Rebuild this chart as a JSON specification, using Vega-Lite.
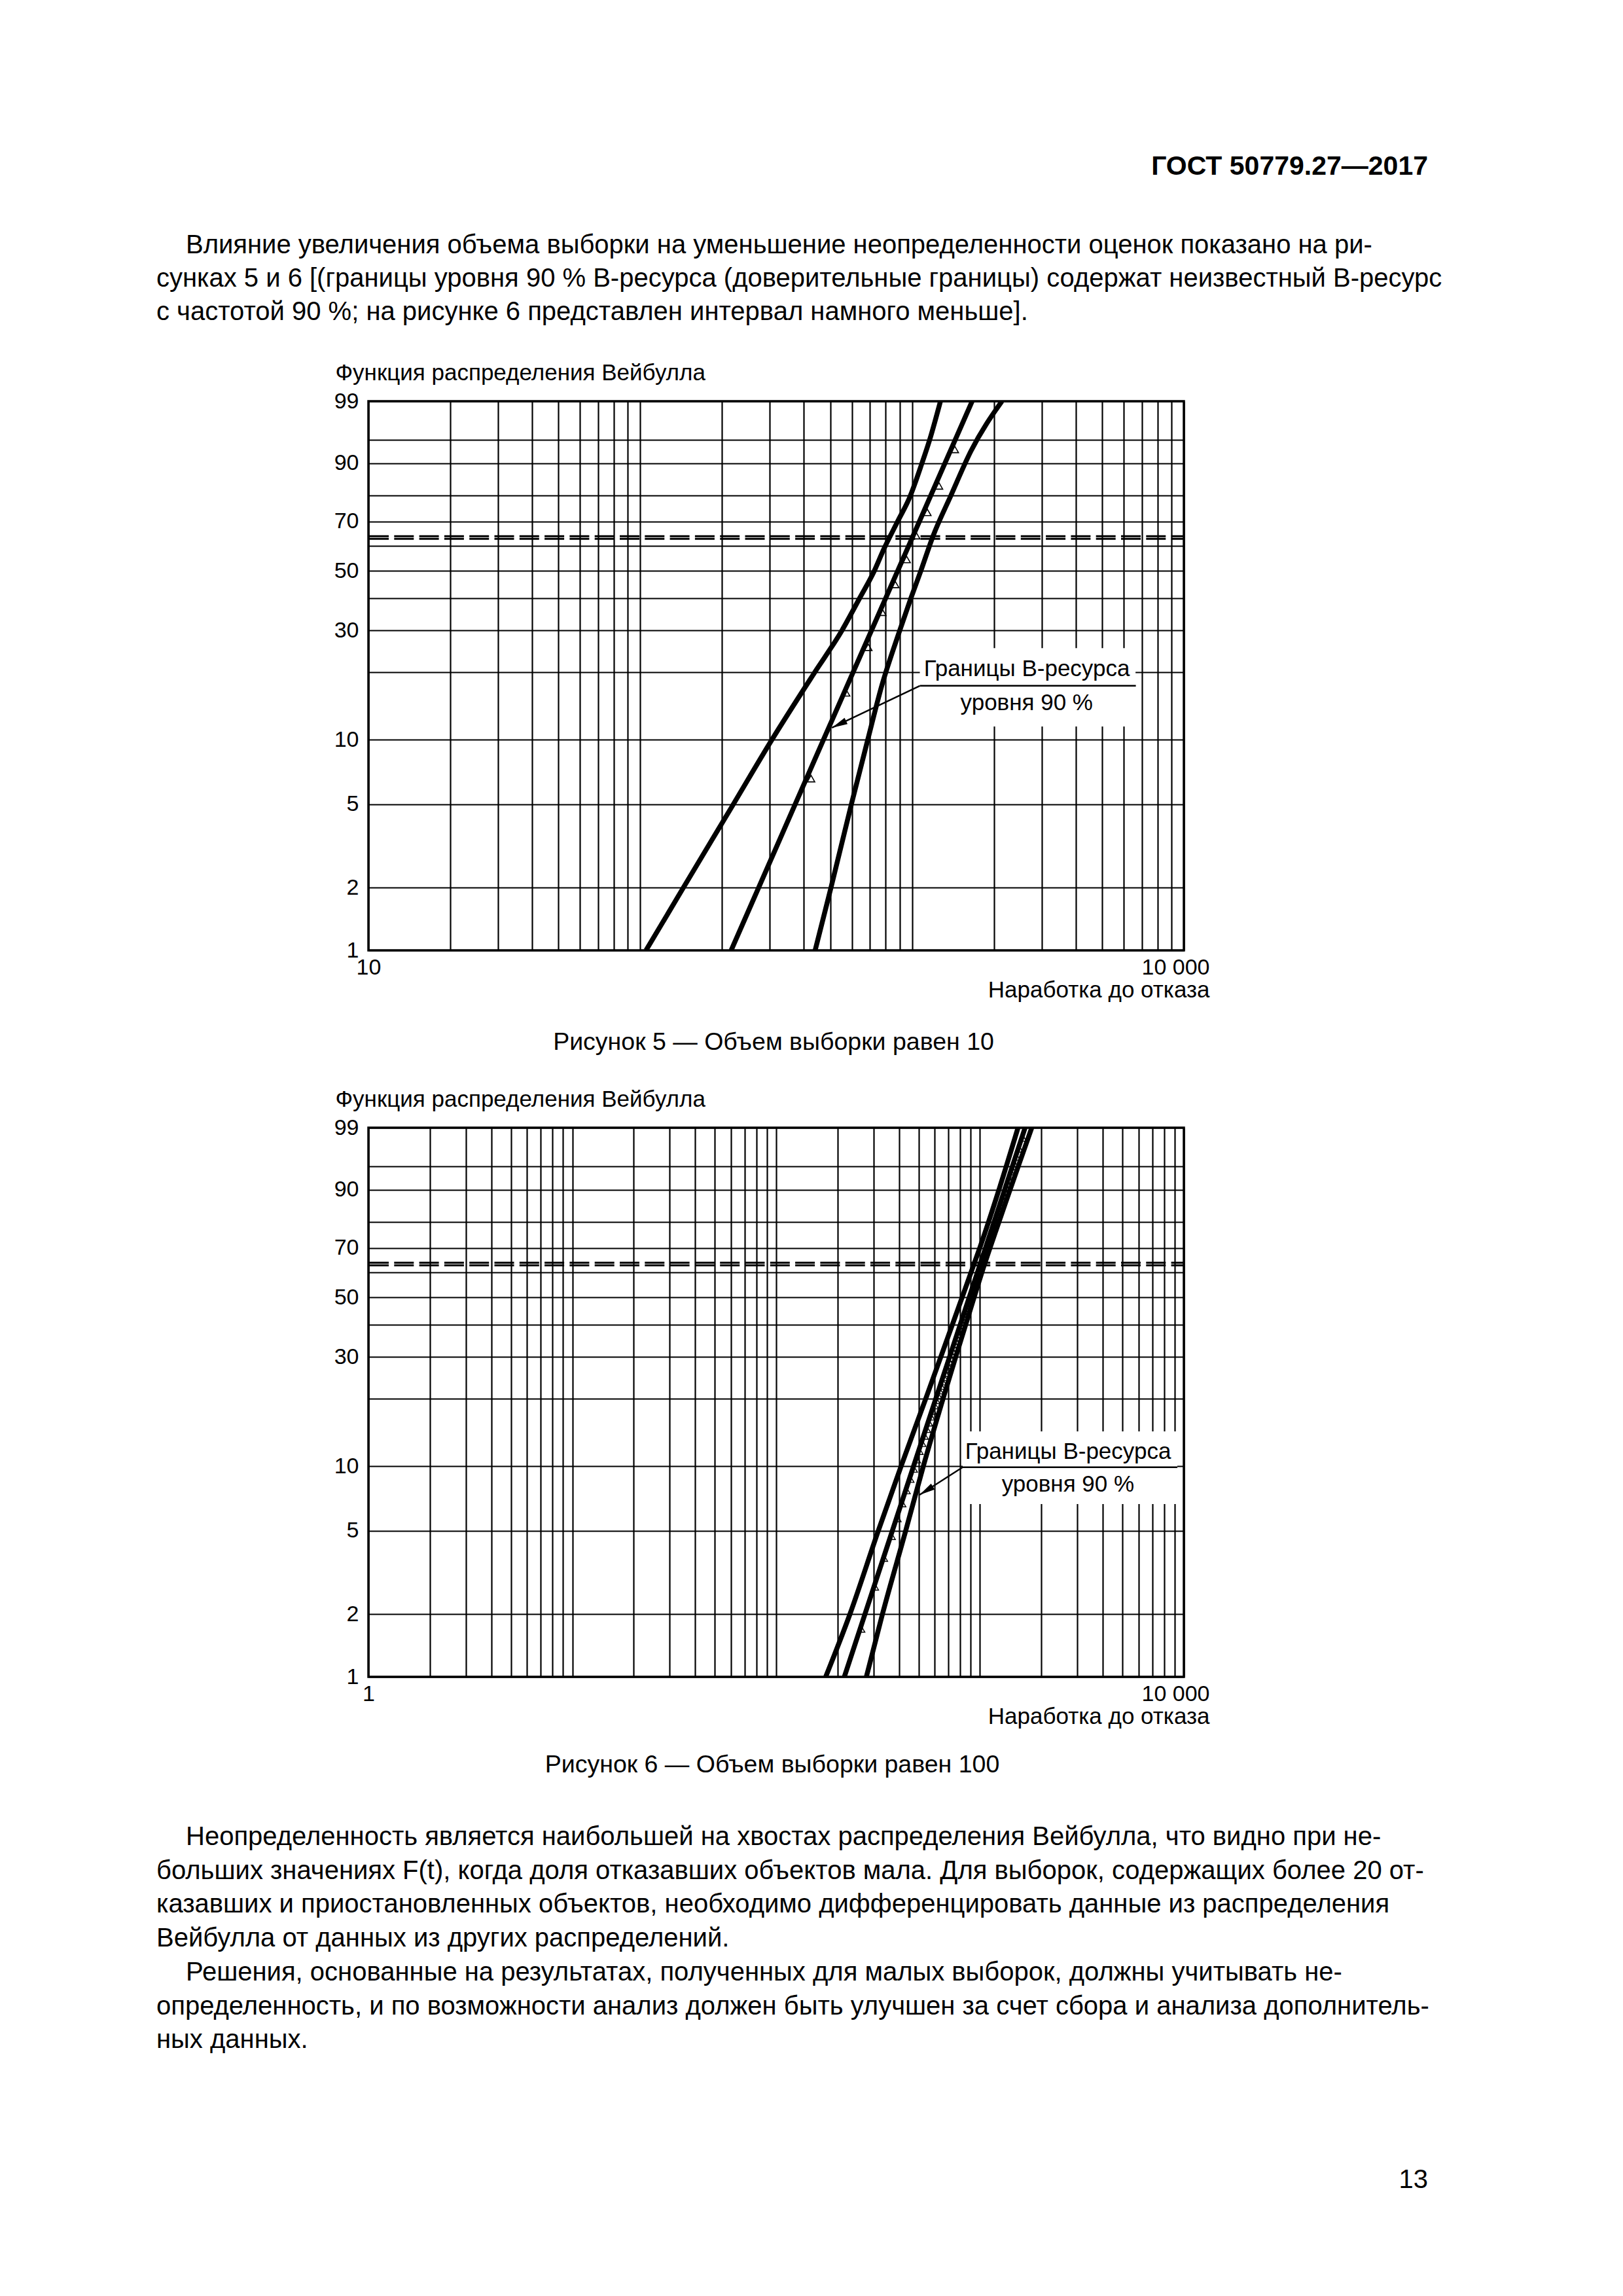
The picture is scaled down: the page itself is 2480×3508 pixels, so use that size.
{
  "$schema": "https://vega.github.io/schema/vega-lite/v6.json",
  "background": "white",
  "padding": {"left": 239, "top": 0, "right": 0, "bottom": 0},
  "bounds": "flush",
  "spacing": 0,
  "config": {"font": "Liberation Sans", "view": {"stroke": null}, "concat": {"spacing": 0}},
  "datasets": {
    "p1": [
      {"line": 1, "indent": 1, "text": "Влияние увеличения объема выборки на уменьшение неопределенности оценок показано на ри-"},
      {"line": 2, "indent": 0, "text": "сунках 5 и 6 [(границы уровня 90 % B-ресурса (доверительные границы) содержат неизвестный B-ресурс"},
      {"line": 3, "indent": 0, "text": "с частотой 90 %; на рисунке 6 представлен интервал намного меньше]."}
    ],
    "p23": [
      {"line": 0, "indent": 1, "text": "Неопределенность является наибольшей на хвостах распределения Вейбулла, что видно при не-"},
      {"line": 1, "indent": 0, "text": "больших значениях F(t), когда доля отказавших объектов мала. Для выборок, содержащих более 20 от-"},
      {"line": 2, "indent": 0, "text": "казавших и приостановленных объектов, необходимо дифференцировать данные из распределения"},
      {"line": 3, "indent": 0, "text": "Вейбулла от данных из других распределений."},
      {"line": 4, "indent": 1, "text": "Решения, основанные на результатах, полученных для малых выборок, должны учитывать не-"},
      {"line": 5, "indent": 0, "text": "определенность, и по возможности анализ должен быть улучшен за счет сбора и анализа дополнитель-"},
      {"line": 6, "indent": 0, "text": "ных данных."}
    ],
    "f5": [
      {"kind": "curve", "c": "lo", "t": 105, "F": 1},
      {"kind": "curve", "c": "lo", "t": 144, "F": 2},
      {"kind": "curve", "c": "lo", "t": 220, "F": 5},
      {"kind": "curve", "c": "lo", "t": 305, "F": 10},
      {"kind": "curve", "c": "lo", "t": 438, "F": 20},
      {"kind": "curve", "c": "lo", "t": 552, "F": 30},
      {"kind": "curve", "c": "lo", "t": 641, "F": 40},
      {"kind": "curve", "c": "lo", "t": 726, "F": 50},
      {"kind": "curve", "c": "lo", "t": 785, "F": 58.4},
      {"kind": "curve", "c": "lo", "t": 885, "F": 70},
      {"kind": "curve", "c": "lo", "t": 980, "F": 79.3},
      {"kind": "curve", "c": "lo", "t": 1087, "F": 90},
      {"kind": "curve", "c": "lo", "t": 1161, "F": 95},
      {"kind": "curve", "c": "lo", "t": 1272, "F": 99},
      {"kind": "curve", "c": "mid", "t": 216, "F": 1},
      {"kind": "curve", "c": "mid", "t": 472, "F": 10},
      {"kind": "curve", "c": "mid", "t": 1000, "F": 63.2},
      {"kind": "curve", "c": "mid", "t": 1664, "F": 99},
      {"kind": "curve", "c": "hi", "t": 440, "F": 1},
      {"kind": "curve", "c": "hi", "t": 503, "F": 2},
      {"kind": "curve", "c": "hi", "t": 598, "F": 5},
      {"kind": "curve", "c": "hi", "t": 687, "F": 10},
      {"kind": "curve", "c": "hi", "t": 773, "F": 17.45},
      {"kind": "curve", "c": "hi", "t": 901, "F": 30},
      {"kind": "curve", "c": "hi", "t": 990, "F": 40},
      {"kind": "curve", "c": "hi", "t": 1077, "F": 50},
      {"kind": "curve", "c": "hi", "t": 1195, "F": 64.1},
      {"kind": "curve", "c": "hi", "t": 1390, "F": 80},
      {"kind": "curve", "c": "hi", "t": 1648, "F": 92.9},
      {"kind": "curve", "c": "hi", "t": 2140, "F": 99},
      {"kind": "pt", "t": 425, "F": 6.6},
      {"kind": "pt", "t": 572, "F": 16.3},
      {"kind": "pt", "t": 690, "F": 25.6},
      {"kind": "pt", "t": 777, "F": 35.4},
      {"kind": "pt", "t": 867, "F": 44.9},
      {"kind": "pt", "t": 955, "F": 54.5},
      {"kind": "pt", "t": 1036, "F": 64.2},
      {"kind": "pt", "t": 1138, "F": 73.6},
      {"kind": "pt", "t": 1256, "F": 83.3},
      {"kind": "pt", "t": 1436, "F": 93.2},
      {"kind": "box", "t": 1068, "t2": 6640, "F": 11.5, "F2": 25.4},
      {"kind": "dash", "F": 62.9},
      {"kind": "dash", "F": 64.0},
      {"kind": "label", "t": 2644, "F": 19.3, "label": "Границы B-ресурса"},
      {"kind": "label", "t": 2640, "F": 13.64, "label": "уровня 90 %"},
      {"kind": "lead", "t": 1068, "F": 17.5, "t2": 6658, "F2": 17.5},
      {"kind": "lead", "t": 1068, "F": 17.5, "t2": 507, "F2": 11.35},
      {"kind": "arrow", "t": 507, "F": 11.35}
    ],
    "f6": [
      {"kind": "curve", "c": "lo", "t": 175, "F": 1},
      {"kind": "curve", "c": "lo", "t": 230, "F": 2},
      {"kind": "curve", "c": "lo", "t": 317, "F": 5},
      {"kind": "curve", "c": "lo", "t": 410, "F": 10},
      {"kind": "curve", "c": "lo", "t": 541, "F": 20},
      {"kind": "curve", "c": "lo", "t": 642, "F": 30},
      {"kind": "curve", "c": "lo", "t": 817, "F": 50},
      {"kind": "curve", "c": "lo", "t": 932, "F": 63.2},
      {"kind": "curve", "c": "lo", "t": 997, "F": 70},
      {"kind": "curve", "c": "lo", "t": 1238, "F": 90},
      {"kind": "curve", "c": "lo", "t": 1536, "F": 99},
      {"kind": "curve", "c": "mid", "t": 216, "F": 1},
      {"kind": "curve", "c": "mid", "t": 472, "F": 10},
      {"kind": "curve", "c": "mid", "t": 1000, "F": 63.2},
      {"kind": "curve", "c": "mid", "t": 1664, "F": 99},
      {"kind": "curve", "c": "hi", "t": 277, "F": 1},
      {"kind": "curve", "c": "hi", "t": 332, "F": 2},
      {"kind": "curve", "c": "hi", "t": 432, "F": 5},
      {"kind": "curve", "c": "hi", "t": 527, "F": 10},
      {"kind": "curve", "c": "hi", "t": 658, "F": 20},
      {"kind": "curve", "c": "hi", "t": 760, "F": 30},
      {"kind": "curve", "c": "hi", "t": 935, "F": 50},
      {"kind": "curve", "c": "hi", "t": 1051, "F": 63.2},
      {"kind": "curve", "c": "hi", "t": 1119, "F": 70},
      {"kind": "curve", "c": "hi", "t": 1403, "F": 90},
      {"kind": "curve", "c": "hi", "t": 1794, "F": 99},
      {"kind": "pt", "t": 263, "F": 1.69}, {"kind": "pt", "t": 307, "F": 2.69}, {"kind": "pt", "t": 340, "F": 3.69},
      {"kind": "pt", "t": 371, "F": 4.68}, {"kind": "pt", "t": 396, "F": 5.68}, {"kind": "pt", "t": 418, "F": 6.67},
      {"kind": "pt", "t": 439, "F": 7.67}, {"kind": "pt", "t": 458, "F": 8.67}, {"kind": "pt", "t": 476, "F": 9.66},
      {"kind": "pt", "t": 493, "F": 10.66}, {"kind": "pt", "t": 508, "F": 11.65}, {"kind": "pt", "t": 524, "F": 12.65},
      {"kind": "pt", "t": 538, "F": 13.65}, {"kind": "pt", "t": 552, "F": 14.64}, {"kind": "pt", "t": 565, "F": 15.64},
      {"kind": "pt", "t": 578, "F": 16.63}, {"kind": "pt", "t": 590, "F": 17.63}, {"kind": "pt", "t": 603, "F": 18.63},
      {"kind": "pt", "t": 614, "F": 19.62}, {"kind": "pt", "t": 626, "F": 20.62}, {"kind": "pt", "t": 637, "F": 21.61},
      {"kind": "pt", "t": 648, "F": 22.61}, {"kind": "pt", "t": 659, "F": 23.61}, {"kind": "pt", "t": 669, "F": 24.6},
      {"kind": "pt", "t": 680, "F": 25.6}, {"kind": "pt", "t": 690, "F": 26.59}, {"kind": "pt", "t": 700, "F": 27.59},
      {"kind": "pt", "t": 710, "F": 28.59}, {"kind": "pt", "t": 719, "F": 29.58}, {"kind": "pt", "t": 729, "F": 30.58},
      {"kind": "pt", "t": 738, "F": 31.57}, {"kind": "pt", "t": 748, "F": 32.57}, {"kind": "pt", "t": 757, "F": 33.57},
      {"kind": "pt", "t": 766, "F": 34.56}, {"kind": "pt", "t": 776, "F": 35.56}, {"kind": "pt", "t": 784, "F": 36.55},
      {"kind": "pt", "t": 794, "F": 37.55}, {"kind": "pt", "t": 802, "F": 38.55}, {"kind": "pt", "t": 811, "F": 39.54},
      {"kind": "pt", "t": 820, "F": 40.54}, {"kind": "pt", "t": 829, "F": 41.53}, {"kind": "pt", "t": 838, "F": 42.53},
      {"kind": "pt", "t": 847, "F": 43.53}, {"kind": "pt", "t": 855, "F": 44.52}, {"kind": "pt", "t": 864, "F": 45.52},
      {"kind": "pt", "t": 872, "F": 46.51}, {"kind": "pt", "t": 881, "F": 47.51}, {"kind": "pt", "t": 890, "F": 48.51},
      {"kind": "pt", "t": 898, "F": 49.5}, {"kind": "pt", "t": 907, "F": 50.5}, {"kind": "pt", "t": 916, "F": 51.49},
      {"kind": "pt", "t": 924, "F": 52.49}, {"kind": "pt", "t": 933, "F": 53.49}, {"kind": "pt", "t": 942, "F": 54.48},
      {"kind": "pt", "t": 950, "F": 55.48}, {"kind": "pt", "t": 959, "F": 56.47}, {"kind": "pt", "t": 968, "F": 57.47},
      {"kind": "pt", "t": 977, "F": 58.47}, {"kind": "pt", "t": 986, "F": 59.46}, {"kind": "pt", "t": 995, "F": 60.46},
      {"kind": "pt", "t": 1004, "F": 61.45}, {"kind": "pt", "t": 1013, "F": 62.45}, {"kind": "pt", "t": 1022, "F": 63.45},
      {"kind": "pt", "t": 1031, "F": 64.44}, {"kind": "pt", "t": 1041, "F": 65.44}, {"kind": "pt", "t": 1050, "F": 66.43},
      {"kind": "pt", "t": 1060, "F": 67.43}, {"kind": "pt", "t": 1069, "F": 68.43}, {"kind": "pt", "t": 1079, "F": 69.42},
      {"kind": "pt", "t": 1089, "F": 70.42}, {"kind": "pt", "t": 1099, "F": 71.41}, {"kind": "pt", "t": 1110, "F": 72.41},
      {"kind": "pt", "t": 1120, "F": 73.41}, {"kind": "pt", "t": 1131, "F": 74.4}, {"kind": "pt", "t": 1142, "F": 75.4},
      {"kind": "pt", "t": 1153, "F": 76.39}, {"kind": "pt", "t": 1164, "F": 77.39}, {"kind": "pt", "t": 1176, "F": 78.39},
      {"kind": "pt", "t": 1188, "F": 79.38}, {"kind": "pt", "t": 1200, "F": 80.38}, {"kind": "pt", "t": 1213, "F": 81.37},
      {"kind": "pt", "t": 1226, "F": 82.37}, {"kind": "pt", "t": 1239, "F": 83.37}, {"kind": "pt", "t": 1253, "F": 84.36},
      {"kind": "pt", "t": 1268, "F": 85.36}, {"kind": "pt", "t": 1283, "F": 86.36}, {"kind": "pt", "t": 1299, "F": 87.35},
      {"kind": "pt", "t": 1316, "F": 88.35}, {"kind": "pt", "t": 1334, "F": 89.34}, {"kind": "pt", "t": 1354, "F": 90.34},
      {"kind": "pt", "t": 1374, "F": 91.34}, {"kind": "pt", "t": 1397, "F": 92.33}, {"kind": "pt", "t": 1422, "F": 93.33},
      {"kind": "pt", "t": 1449, "F": 94.32}, {"kind": "pt", "t": 1481, "F": 95.32}, {"kind": "pt", "t": 1519, "F": 96.32},
      {"kind": "pt", "t": 1566, "F": 97.31}, {"kind": "pt", "t": 1630, "F": 98.31},
      {"kind": "box", "t": 822, "t2": 9290, "F": 6.68, "F2": 14.4},
      {"kind": "dash", "F": 62.9},
      {"kind": "dash", "F": 64.0},
      {"kind": "label", "t": 2703, "F": 10.8, "label": "Границы B-ресурса"},
      {"kind": "label", "t": 2700, "F": 7.64, "label": "уровня 90 %"},
      {"kind": "lead", "t": 822, "F": 9.9, "t2": 9290, "F2": 9.9},
      {"kind": "lead", "t": 822, "F": 9.9, "t2": 505, "F2": 7.37},
      {"kind": "arrow", "t": 505, "F": 7.37}
    ]
  },
  "vconcat": [
    {
      "width": 1246,
      "height": 613,
      "view": {"stroke": null},
      "layer": [
        {
          "data": {"values": [{"text": "ГОСТ 50779.27—2017"}]},
          "mark": {"type": "text", "align": "right", "baseline": "alphabetic", "fontSize": 41, "fontWeight": "bold", "color": "black"},
          "encoding": {"x": {"value": 1619}, "y": {"value": 267}, "text": {"field": "text"}}
        },
        {
          "data": {"name": "p1"},
          "transform": [{"filter": "datum.indent == 1"}],
          "mark": {"type": "text", "align": "left", "baseline": "alphabetic", "fontSize": 40, "color": "black"},
          "encoding": {
            "x": {"value": -279},
            "y": {"field": "line", "type": "quantitative", "scale": {"domain": [0, 10], "range": [336, 846], "nice": false, "zero": false}, "axis": null},
            "text": {"field": "text"}
          }
        },
        {
          "data": {"name": "p1"},
          "transform": [{"filter": "datum.indent == 0"}],
          "mark": {"type": "text", "align": "left", "baseline": "alphabetic", "fontSize": 40, "color": "black"},
          "encoding": {
            "x": {"value": -324},
            "y": {"field": "line", "type": "quantitative", "scale": {"domain": [0, 10], "range": [336, 846], "nice": false, "zero": false}, "axis": null},
            "text": {"field": "text"}
          }
        }
      ]
    },
    {
      "width": 1246,
      "height": 839,
      "view": {"stroke": "black", "strokeWidth": 3.5},
      "data": {"name": "f5"},
      "transform": [
        {"calculate": "-log(1 - datum.F/100)", "as": "h"},
        {"calculate": "datum.F2 == null ? null : -log(1 - datum.F2/100)", "as": "h2"}
      ],
      "layer": [
        {
          "transform": [{"filter": "datum.kind == 'box'"}],
          "mark": {"type": "rect", "fill": "white", "strokeWidth": 0},
          "encoding": {
            "x": {"field": "t", "type": "quantitative", "scale": {"type": "log", "domain": [10, 10000], "nice": false}},
            "x2": {"field": "t2"},
            "y": {"field": "h", "type": "quantitative", "scale": {"type": "log", "domain": [0.01005034, 4.60517019], "nice": false}},
            "y2": {"field": "h2"}
          }
        },
        {
          "transform": [{"filter": "datum.kind == 'curve'"}],
          "mark": {"type": "line", "interpolate": "monotone", "strokeWidth": 7.5, "color": "black", "clip": true},
          "encoding": {
            "x": {
              "field": "t", "type": "quantitative",
              "scale": {"type": "log", "domain": [10, 10000], "nice": false},
              "axis": {
                "values": [10, 20, 30, 40, 50, 60, 70, 80, 90, 100, 200, 300, 400, 500, 600, 700, 800, 900, 1000, 2000, 3000, 4000, 5000, 6000, 7000, 8000, 9000, 10000],
                "labelExpr": "datum.value == 10 ? '10' : (datum.value == 10000 ? '10 000' : '')",
                "grid": true, "gridColor": "black", "gridWidth": 2.2, "gridOpacity": 1,
                "domain": false, "ticks": false, "tickSize": 0,
                "labelAlign": {"condition": {"test": "datum.value == 10000", "value": "right"}, "value": "center"},
                "labelOffset": {"condition": {"test": "datum.value == 10000", "value": 39}, "value": 0},
                "labelBaseline": "alphabetic", "labelPadding": 36, "labelFontSize": 34, "labelColor": "black",
                "labelOverlap": false, "labelFlush": false, "labelBound": false,
                "title": "Наработка до отказа", "titleAlign": "right", "titleAnchor": "end", "titleBaseline": "alphabetic",
                "titleX": 1285, "titleY": 71, "titleFontSize": 35, "titleFontWeight": "normal", "titleColor": "black"
              }
            },
            "y": {
              "field": "h", "type": "quantitative",
              "scale": {"type": "log", "domain": [0.01005034, 4.60517019], "nice": false},
              "axis": {
                "values": [0.01005034, 0.02020271, 0.05129329, 0.10536052, 0.22314355, 0.35667494, 0.51082562, 0.69314718, 0.91629073, 1.2039728, 1.60943791, 2.30258509, 2.99573227, 4.60517019],
                "labelExpr": "indexof([1,2,5,10,30,50,70,90,99], round(100*(1-exp(-datum.value)))) >= 0 ? '' + round(100*(1-exp(-datum.value))) : ''",
                "grid": true, "gridColor": "black", "gridWidth": 2.2, "gridOpacity": 1,
                "domain": false, "ticks": false, "tickSize": 0,
                "labelAlign": "right", "labelBaseline": "middle", "labelPadding": 15, "labelFontSize": 34, "labelColor": "black",
                "labelOverlap": false, "labelFlush": false, "labelBound": false,
                "title": "Функция распределения Вейбулла", "titleAngle": 0, "titleAlign": "left", "titleBaseline": "alphabetic",
                "titleX": -51, "titleY": -33, "titleFontSize": 35, "titleFontWeight": "normal", "titleColor": "black"
              }
            },
            "detail": {"field": "c"}
          }
        },
        {
          "transform": [{"filter": "datum.kind == 'dash'"}],
          "mark": {"type": "rule", "strokeDash": [30, 8.3], "strokeDashOffset": 10.6, "strokeWidth": 3, "color": "black"},
          "encoding": {
            "y": {"field": "h", "type": "quantitative", "scale": {"type": "log", "domain": [0.01005034, 4.60517019], "nice": false}}
          }
        },
        {
          "transform": [{"filter": "datum.kind == 'pt'"}],
          "mark": {"type": "point", "shape": "triangle-up", "filled": false, "size": 130, "strokeWidth": 1.6, "color": "black", "opacity": 1},
          "encoding": {
            "x": {"field": "t", "type": "quantitative", "scale": {"type": "log", "domain": [10, 10000], "nice": false}},
            "y": {"field": "h", "type": "quantitative", "scale": {"type": "log", "domain": [0.01005034, 4.60517019], "nice": false}}
          }
        },
        {
          "transform": [{"filter": "datum.kind == 'label'"}],
          "mark": {"type": "text", "fontSize": 35, "align": "center", "baseline": "alphabetic", "color": "black"},
          "encoding": {
            "x": {"field": "t", "type": "quantitative", "scale": {"type": "log", "domain": [10, 10000], "nice": false}},
            "y": {"field": "h", "type": "quantitative", "scale": {"type": "log", "domain": [0.01005034, 4.60517019], "nice": false}},
            "text": {"field": "label"}
          }
        },
        {
          "transform": [{"filter": "datum.kind == 'lead'"}],
          "mark": {"type": "rule", "strokeWidth": 2.5, "color": "black"},
          "encoding": {
            "x": {"field": "t", "type": "quantitative", "scale": {"type": "log", "domain": [10, 10000], "nice": false}},
            "x2": {"field": "t2"},
            "y": {"field": "h", "type": "quantitative", "scale": {"type": "log", "domain": [0.01005034, 4.60517019], "nice": false}},
            "y2": {"field": "h2"}
          }
        },
        {
          "transform": [{"filter": "datum.kind == 'arrow'"}],
          "mark": {"type": "point", "shape": "M0,0 L0.22,1 L-0.22,1 Z", "filled": true, "size": 2304, "angle": 244.5, "color": "black", "opacity": 1},
          "encoding": {
            "x": {"field": "t", "type": "quantitative", "scale": {"type": "log", "domain": [10, 10000], "nice": false}},
            "y": {"field": "h", "type": "quantitative", "scale": {"type": "log", "domain": [0.01005034, 4.60517019], "nice": false}}
          }
        }
      ]
    },
    {
      "width": 1246,
      "height": 271,
      "view": {"stroke": null},
      "data": {"values": [{"text": "Рисунок 5 — Объем выборки равен 10"}]},
      "mark": {"type": "text", "align": "center", "baseline": "alphabetic", "fontSize": 37.5, "color": "black"},
      "encoding": {"x": {"value": 619}, "y": {"value": 152}, "text": {"field": "text"}}
    },
    {
      "width": 1246,
      "height": 839,
      "view": {"stroke": "black", "strokeWidth": 3.5},
      "data": {"name": "f6"},
      "transform": [
        {"calculate": "-log(1 - datum.F/100)", "as": "h"},
        {"calculate": "datum.F2 == null ? null : -log(1 - datum.F2/100)", "as": "h2"}
      ],
      "layer": [
        {
          "transform": [{"filter": "datum.kind == 'box'"}],
          "mark": {"type": "rect", "fill": "white", "strokeWidth": 0},
          "encoding": {
            "x": {"field": "t", "type": "quantitative", "scale": {"type": "log", "domain": [1, 10000], "nice": false}},
            "x2": {"field": "t2"},
            "y": {"field": "h", "type": "quantitative", "scale": {"type": "log", "domain": [0.01005034, 4.60517019], "nice": false}},
            "y2": {"field": "h2"}
          }
        },
        {
          "transform": [{"filter": "datum.kind == 'curve'"}],
          "mark": {"type": "line", "interpolate": "monotone", "strokeWidth": 7.5, "color": "black", "clip": true},
          "encoding": {
            "x": {
              "field": "t", "type": "quantitative",
              "scale": {"type": "log", "domain": [1, 10000], "nice": false},
              "axis": {
                "values": [1, 2, 3, 4, 5, 6, 7, 8, 9, 10, 20, 30, 40, 50, 60, 70, 80, 90, 100, 200, 300, 400, 500, 600, 700, 800, 900, 1000, 2000, 3000, 4000, 5000, 6000, 7000, 8000, 9000, 10000],
                "labelExpr": "datum.value == 1 ? '1' : (datum.value == 10000 ? '10 000' : '')",
                "grid": true, "gridColor": "black", "gridWidth": 2.2, "gridOpacity": 1,
                "domain": false, "ticks": false, "tickSize": 0,
                "labelAlign": {"condition": {"test": "datum.value == 10000", "value": "right"}, "value": "center"},
                "labelOffset": {"condition": {"test": "datum.value == 10000", "value": 39}, "value": 0},
                "labelBaseline": "alphabetic", "labelPadding": 36, "labelFontSize": 34, "labelColor": "black",
                "labelOverlap": false, "labelFlush": false, "labelBound": false,
                "title": "Наработка до отказа", "titleAlign": "right", "titleAnchor": "end", "titleBaseline": "alphabetic",
                "titleX": 1285, "titleY": 71, "titleFontSize": 35, "titleFontWeight": "normal", "titleColor": "black"
              }
            },
            "y": {
              "field": "h", "type": "quantitative",
              "scale": {"type": "log", "domain": [0.01005034, 4.60517019], "nice": false},
              "axis": {
                "values": [0.01005034, 0.02020271, 0.05129329, 0.10536052, 0.22314355, 0.35667494, 0.51082562, 0.69314718, 0.91629073, 1.2039728, 1.60943791, 2.30258509, 2.99573227, 4.60517019],
                "labelExpr": "indexof([1,2,5,10,30,50,70,90,99], round(100*(1-exp(-datum.value)))) >= 0 ? '' + round(100*(1-exp(-datum.value))) : ''",
                "grid": true, "gridColor": "black", "gridWidth": 2.2, "gridOpacity": 1,
                "domain": false, "ticks": false, "tickSize": 0,
                "labelAlign": "right", "labelBaseline": "middle", "labelPadding": 15, "labelFontSize": 34, "labelColor": "black",
                "labelOverlap": false, "labelFlush": false, "labelBound": false,
                "title": "Функция распределения Вейбулла", "titleAngle": 0, "titleAlign": "left", "titleBaseline": "alphabetic",
                "titleX": -51, "titleY": -33, "titleFontSize": 35, "titleFontWeight": "normal", "titleColor": "black"
              }
            },
            "detail": {"field": "c"}
          }
        },
        {
          "transform": [{"filter": "datum.kind == 'dash'"}],
          "mark": {"type": "rule", "strokeDash": [30, 8.3], "strokeDashOffset": 10.6, "strokeWidth": 3, "color": "black"},
          "encoding": {
            "y": {"field": "h", "type": "quantitative", "scale": {"type": "log", "domain": [0.01005034, 4.60517019], "nice": false}}
          }
        },
        {
          "transform": [{"filter": "datum.kind == 'pt'"}],
          "mark": {"type": "point", "shape": "triangle-up", "filled": false, "size": 90, "strokeWidth": 1.4, "color": "black", "opacity": 1},
          "encoding": {
            "x": {"field": "t", "type": "quantitative", "scale": {"type": "log", "domain": [1, 10000], "nice": false}},
            "y": {"field": "h", "type": "quantitative", "scale": {"type": "log", "domain": [0.01005034, 4.60517019], "nice": false}}
          }
        },
        {
          "transform": [{"filter": "datum.kind == 'label'"}],
          "mark": {"type": "text", "fontSize": 35, "align": "center", "baseline": "alphabetic", "color": "black"},
          "encoding": {
            "x": {"field": "t", "type": "quantitative", "scale": {"type": "log", "domain": [1, 10000], "nice": false}},
            "y": {"field": "h", "type": "quantitative", "scale": {"type": "log", "domain": [0.01005034, 4.60517019], "nice": false}},
            "text": {"field": "label"}
          }
        },
        {
          "transform": [{"filter": "datum.kind == 'lead'"}],
          "mark": {"type": "rule", "strokeWidth": 2.5, "color": "black"},
          "encoding": {
            "x": {"field": "t", "type": "quantitative", "scale": {"type": "log", "domain": [1, 10000], "nice": false}},
            "x2": {"field": "t2"},
            "y": {"field": "h", "type": "quantitative", "scale": {"type": "log", "domain": [0.01005034, 4.60517019], "nice": false}},
            "y2": {"field": "h2"}
          }
        },
        {
          "transform": [{"filter": "datum.kind == 'arrow'"}],
          "mark": {"type": "point", "shape": "M0,0 L0.22,1 L-0.22,1 Z", "filled": true, "size": 2304, "angle": 238.2, "color": "black", "opacity": 1},
          "encoding": {
            "x": {"field": "t", "type": "quantitative", "scale": {"type": "log", "domain": [1, 10000], "nice": false}},
            "y": {"field": "h", "type": "quantitative", "scale": {"type": "log", "domain": [0.01005034, 4.60517019], "nice": false}}
          }
        }
      ]
    },
    {
      "width": 1246,
      "height": 900,
      "view": {"stroke": null},
      "layer": [
        {
          "data": {"values": [{"text": "Рисунок 6 — Объем выборки равен 100"}]},
          "mark": {"type": "text", "align": "center", "baseline": "alphabetic", "fontSize": 37.5, "color": "black"},
          "encoding": {"x": {"value": 617}, "y": {"value": 146}, "text": {"field": "text"}}
        },
        {
          "data": {"name": "p23"},
          "transform": [{"filter": "datum.indent == 1"}],
          "mark": {"type": "text", "align": "left", "baseline": "alphabetic", "fontSize": 40, "color": "black"},
          "encoding": {
            "x": {"value": -279},
            "y": {"field": "line", "type": "quantitative", "scale": {"domain": [0, 10], "range": [257, 774], "nice": false, "zero": false}, "axis": null},
            "text": {"field": "text"}
          }
        },
        {
          "data": {"name": "p23"},
          "transform": [{"filter": "datum.indent == 0"}],
          "mark": {"type": "text", "align": "left", "baseline": "alphabetic", "fontSize": 40, "color": "black"},
          "encoding": {
            "x": {"value": -324},
            "y": {"field": "line", "type": "quantitative", "scale": {"domain": [0, 10], "range": [257, 774], "nice": false, "zero": false}, "axis": null},
            "text": {"field": "text"}
          }
        },
        {
          "data": {"values": [{"text": "13"}]},
          "mark": {"type": "text", "align": "right", "baseline": "alphabetic", "fontSize": 40, "color": "black"},
          "encoding": {"x": {"value": 1619}, "y": {"value": 781}, "text": {"field": "text"}}
        }
      ]
    }
  ]
}
